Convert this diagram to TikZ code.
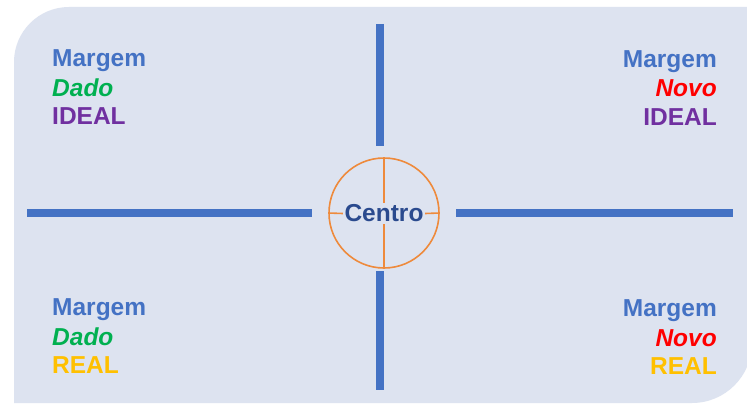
\documentclass[tikz,border=0pt]{standalone}
\usepackage{fontspec}
\setmainfont{Liberation Sans}
\definecolor{panel}{HTML}{DDE3F0}
\definecolor{mblue}{HTML}{4472C4}
\definecolor{dgreen}{HTML}{00B050}
\definecolor{nred}{HTML}{FF0000}
\definecolor{ipurple}{HTML}{7030A0}
\definecolor{rgold}{HTML}{FFC000}
\definecolor{cblue}{HTML}{2A4A8E}
\definecolor{corange}{HTML}{EE8A3C}
\begin{document}
\begin{tikzpicture}[x=1pt,y=-1pt,
  lbl/.style={inner sep=0pt,font=\fontsize{24.5}{29.5}\selectfont\bfseries},
  lbll/.style={lbl,anchor=base west},
  lblr/.style={lbl,anchor=base east},
  axis/.style={draw=mblue,line width=8pt},
  ring/.style={draw=corange,line width=1.6pt}]
\useasboundingbox (0,0) rectangle (747,412);
\fill[white] (0,0) rectangle (747,412);
% panel
\fill[panel] (14,403) -- (14,62) arc[start angle=180,end angle=270,radius=55] -- (752,7) -- (752,343) arc[start angle=0,end angle=90,radius=60] -- cycle;
% axes
\coordinate (vt1) at (380,24);
\coordinate (vt2) at (380,146);
\coordinate (vb1) at (380,271);
\coordinate (vb2) at (380,390);
\coordinate (hl1) at (27,213);
\coordinate (hl2) at (312,213);
\coordinate (hr1) at (456,213);
\coordinate (hr2) at (733,213);
\path[axis] (vt1) -- (vt2);
\path[axis] (vb1) -- (vb2);
\path[axis] (hl1) -- (hl2);
\path[axis] (hr1) -- (hr2);
% centre
\node[ring,circle,minimum size=110pt,inner sep=0pt] (c) at (384,213) {};
\node[lbl,text=cblue,inner sep=1.5pt] (ctr) at (384,213.5) {Centro};
\path[ring] (c.north) -- (ctr.north);
\path[ring] (c.south) -- (ctr.south);
\path[ring] (c.west) -- (ctr.west);
\path[ring] (c.east) -- (ctr.east);
% top left
\node[lbll,text=mblue] (tl1) at (52,66.5) {Margem};
\node[lbll,text=dgreen] (tl2) at (52,96) {\itshape Dado};
\node[lbll,text=ipurple] (tl3) at (52,124.5) {IDEAL};
% top right
\node[lblr,text=mblue] (tr1) at (717,67) {Margem};
\node[lblr,text=nred] (tr2) at (717,96.5) {\itshape Novo};
\node[lblr,text=ipurple] (tr3) at (717,125) {IDEAL};
% bottom left
\node[lbll,text=mblue] (bl1) at (52,315.5) {Margem};
\node[lbll,text=dgreen] (bl2) at (52,345) {\itshape Dado};
\node[lbll,text=rgold] (bl3) at (52,373) {REAL};
% bottom right
\node[lblr,text=mblue] (br1) at (717,316.5) {Margem};
\node[lblr,text=nred] (br2) at (717,346) {\itshape Novo};
\node[lblr,text=rgold] (br3) at (717,374) {REAL};
\end{tikzpicture}
\end{document}
